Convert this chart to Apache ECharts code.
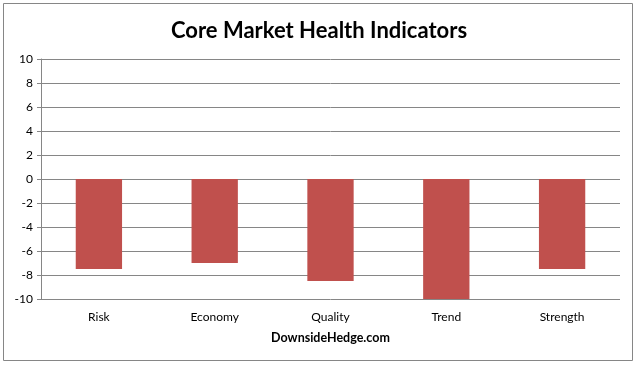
<!DOCTYPE html>
<html>
<head>
<meta charset="utf-8">
<script src="https://cdn.jsdelivr.net/npm/echarts@6/dist/echarts.min.js"></script>
<style>
html,body{margin:0;padding:0;background:#fff;}
#c{width:638px;height:366px;}
</style>
</head>
<body>
<div id="c"></div>
<script>
const categories = ['Risk', 'Economy', 'Quality', 'Trend', 'Strength'];
const values = [-7.5, -7, -8.5, -10, -7.5];
const yMin = -10, yMax = 10, yStep = 2;
const titleText = 'Core Market Health Indicators';
const xAxisTitle = 'DownsideHedge.com';

const chart = echarts.init(document.getElementById('c'));
const font = 'Lato, "Open Sans", sans-serif';
chart.setOption({
  animation: false,
  title: {
    text: titleText,
    left: 'center',
    top: 15,
    textStyle: {fontFamily: font, fontSize: 22, fontWeight: 'bold', color: '#000'}
  },
  graphic: [{
    type: 'rect',
    shape: {x: 3.5, y: 3.5, width: 629, height: 357},
    style: {fill: null, stroke: '#868686', lineWidth: 1},
    silent: true, z: -1
  }],
  grid: {left: 41, right: 18, top: 59, bottom: 67, containLabel: false},
  xAxis: {
    type: 'category',
    data: categories,
    name: xAxisTitle,
    nameLocation: 'middle',
    nameGap: 32,
    nameTextStyle: {fontFamily: font, fontSize: 12.5, fontWeight: 'bold', color: '#000'},
    axisLine: {show: false, onZero: false},
    axisTick: {show: false},
    axisLabel: {fontFamily: font, fontSize: 12, color: '#000', margin: 12}
  },
  yAxis: {
    type: 'value',
    min: yMin, max: yMax, interval: yStep,
    axisLine: {show: true, lineStyle: {color: '#868686', width: 1}},
    axisTick: {show: true, inside: false, length: 4, lineStyle: {color: '#868686'}},
    axisLabel: {fontFamily: font, fontSize: 12, color: '#000', margin: 8},
    splitLine: {show: true, lineStyle: {color: '#868686', width: 1}}
  },
  series: [{
    type: 'bar',
    data: values,
    barWidth: '40%',
    itemStyle: {color: '#C0504D'}
  }]
});
</script>
</body>
</html>
